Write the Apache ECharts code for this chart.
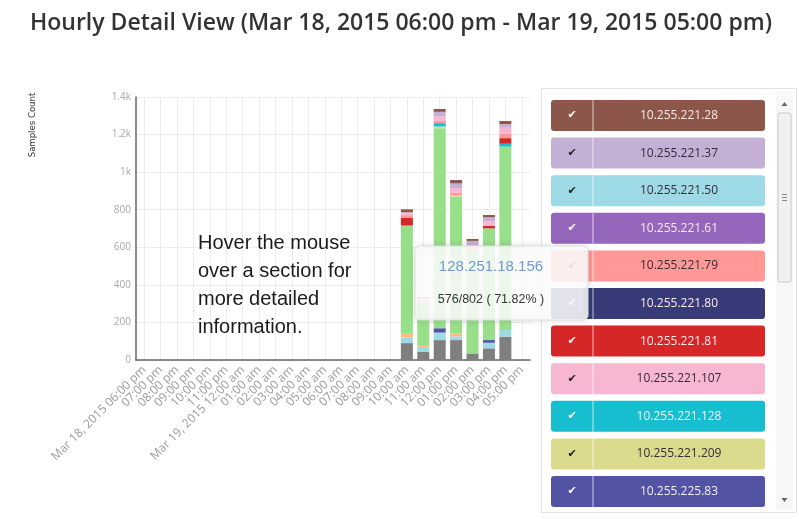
<!DOCTYPE html>
<html><head><meta charset="utf-8">
<script src="https://cdn.jsdelivr.net/npm/echarts@6/dist/echarts.min.js"></script>
<style>html,body{margin:0;padding:0;background:#fff}#c{width:799px;height:519px}</style>
</head><body><div id="c"></div>
<script>
const titleText = 'Hourly Detail View (Mar 18, 2015 06:00 pm - Mar 19, 2015 05:00 pm)';
const hours = ['Mar 18, 2015 06:00 pm','07:00 pm','08:00 pm','09:00 pm','10:00 pm','11:00 pm',
  'Mar 19, 2015 12:00 am','01:00 am','02:00 am','03:00 am','04:00 am','05:00 am','06:00 am',
  '07:00 am','08:00 am','09:00 am','10:00 am','11:00 am','12:00 pm','01:00 pm','02:00 pm',
  '03:00 pm','04:00 pm','05:00 pm'];
const yTickLabels = ['0','200','400','600','800','1k','1.2k','1.4k'];

// stacked series, bottom to top (24 hourly values each)
const sGray   = [0,0,0,0,0,0,0,0,0,0,0,0,0,0,0,0, 90, 45,106,106, 35, 62,124,0];
const sCyanL  = [0,0,0,0,0,0,0,0,0,0,0,0,0,0,0,0, 30, 25, 40, 20,  0, 30, 36,0];
const sOrange = [0,0,0,0,0,0,0,0,0,0,0,0,0,0,0,0, 20,  5,  0, 16,  0,  0,  0,0];
const sIndigo = [0,0,0,0,0,0,0,0,0,0,0,0,0,0,0,0,  0,  0, 23,  0,  0, 14,  0,0];
const sGreen  = [0,0,0,0,0,0,0,0,0,0,0,0,0,0,0,0,576,230,1064,727,542,595,976,0];
const sKhaki  = [0,0,0,0,0,0,0,0,0,0,0,0,0,0,0,0,  0,  0, 10,  6,  5,  0,  0,0];
const sTeal   = [0,0,0,0,0,0,0,0,0,0,0,0,0,0,0,0,  0,  0, 18,  0,  0,  0, 15,0];
const sRed    = [0,0,0,0,0,0,0,0,0,0,0,0,0,0,0,0, 40,  0,  0,  0,  0, 14, 30,0];
const sSalmon = [0,0,0,0,0,0,0,0,0,0,0,0,0,0,0,0, 15,  8, 12, 15, 12,  0, 25,0];
const sPink   = [0,0,0,0,0,0,0,0,0,0,0,0,0,0,0,0, 10, 10, 25, 25, 15, 25, 30,0];
const sLilac  = [0,0,0,0,0,0,0,0,0,0,0,0,0,0,0,0,  6,  7, 23, 25, 25, 20, 20,0];
const sBrown  = [0,0,0,0,0,0,0,0,0,0,0,0,0,0,0,0, 15,  5, 15, 18, 10, 12, 16,0];

const seriesNames  = ['10.255.220.10','10.255.221.50','10.255.221.7','10.255.225.83','128.251.18.156',
  '10.255.221.209','10.255.221.128','10.255.221.81','10.255.221.79','10.255.221.107','10.255.221.37','10.255.221.28'];
const seriesColors = ['#7f7f7f','#9edae5','#ffbb78','#5254a3','#98df8a','#dbdb8d','#17becf','#d62728',
  '#ff9896','#f7b6d2','#c5b0d5','#8c564b'];
const seriesData = [sGray,sCyanL,sOrange,sIndigo,sGreen,sKhaki,sTeal,sRed,sSalmon,sPink,sLilac,sBrown];

const legendNames  = ['10.255.221.28','10.255.221.37','10.255.221.50','10.255.221.61','10.255.221.79',
  '10.255.221.80','10.255.221.81','10.255.221.107','10.255.221.128','10.255.221.209','10.255.225.83'];
const legendColors = ['#8c564b','#c5b0d5','#9edae5','#9467bd','#ff9896','#393b79','#d62728','#f7b6d2',
  '#17becf','#dbdb8d','#5254a3'];
const legendDark   = [true,false,false,true,false,true,true,false,true,false,true];

const tipName = '128.251.18.156';
const tipIndex = 16;

const chart = echarts.init(document.getElementById('c'));

const series = seriesData.map((d, i) => ({
  name: seriesNames[i], type: 'bar', stack: 'all', data: d, barWidth: 12, z: 2,
  itemStyle: { color: seriesColors[i] }, emphasis: { disabled: true }
}));

const graphics = [];
// y axis name
graphics.push({ type: 'text', x: 33, y: 125, rotation: Math.PI / 2, z: 20,
  style: { text: 'Samples Count', fill: '#333', font: '9.5px "DejaVu Sans Condensed"', align: 'center', verticalAlign: 'middle' } });
// hover hint
graphics.push({ type: 'text', x: 198, y: 229, z: 20,
  style: { text: 'Hover the mouse\nover a section for\nmore detailed\ninformation.', fill: '#1a1a1a',
    font: '20px "Liberation Sans"', lineHeight: 28 } });
// legend panel
graphics.push({ type: 'rect', shape: { x: 541.5, y: 88.5, width: 255, height: 424 }, z: 30,
  style: { fill: '#fff', stroke: '#e3e3e3', lineWidth: 1 } });
legendNames.forEach((n, i) => {
  const x0 = 551, y0 = 100 + i * 37.6;
  const dark = legendDark[i];
  graphics.push({ type: 'rect', z: 31, shape: { x: x0, y: y0, width: 214, height: 31, r: 3 }, style: { fill: legendColors[i] } });
  graphics.push({ type: 'rect', z: 32, shape: { x: x0 + 41, y: y0, width: 2, height: 31 }, style: { fill: 'rgba(255,255,255,0.35)' } });
  graphics.push({ type: 'text', z: 33, x: x0 + 21, y: y0 + 15.5, style: { text: '\u2714', fill: dark ? '#fff' : '#222',
    font: '11px "DejaVu Sans"', align: 'center', verticalAlign: 'middle' } });
  graphics.push({ type: 'text', z: 33, x: x0 + 128, y: y0 + 15.5, style: { text: n, fill: dark ? '#fbe9ec' : '#3a2a3a',
    font: '12px "Open Sans"', align: 'center', verticalAlign: 'middle' } });
});
// scrollbar
const sx = 776, sy = 92;
graphics.push({ type: 'rect', z: 31, shape: { x: sx, y: sy, width: 17, height: 418 }, style: { fill: '#f7f7f7' } });
graphics.push({ type: 'polygon', z: 32, shape: { points: [[sx + 5.5, sy + 14], [sx + 11.5, sy + 14], [sx + 8.5, sy + 10]] }, style: { fill: '#666' } });
graphics.push({ type: 'polygon', z: 32, shape: { points: [[sx + 5.5, sy + 406], [sx + 11.5, sy + 406], [sx + 8.5, sy + 410]] }, style: { fill: '#666' } });
graphics.push({ type: 'rect', z: 32, shape: { x: sx + 2, y: sy + 21, width: 13, height: 169, r: 2 }, style: { fill: '#f1f1f1', stroke: '#c8c8c8' } });
[102, 105, 108].forEach(d => graphics.push({ type: 'rect', z: 33, shape: { x: sx + 6, y: sy + d, width: 5, height: 1 }, style: { fill: '#888' } }));
// tooltip
const tipTotal = seriesData.reduce((s, d) => s + d[tipIndex], 0);
const tipVal = sGreen[tipIndex];
const tipText = tipVal + '/' + tipTotal + ' ( ' + (tipVal / tipTotal * 100).toFixed(2) + '% )';
const tx = 415, ty = 246;
graphics.push({ type: 'rect', z: 50, shape: { x: tx, y: ty, width: 173, height: 74, r: 5 },
  style: { fill: 'rgba(255,255,255,0.86)', stroke: '#e0e0e0', shadowBlur: 6, shadowColor: 'rgba(0,0,0,0.15)' } });
graphics.push({ type: 'text', z: 51, x: tx + 76, y: ty + 21, style: { text: tipName, fill: '#6d9bd1', font: '15px "Liberation Sans"',
  align: 'center', verticalAlign: 'middle' } });
graphics.push({ type: 'text', z: 51, x: tx + 76, y: ty + 54, style: { text: tipText, fill: '#333', font: '12.5px "Liberation Sans"',
  align: 'center', verticalAlign: 'middle' } });

chart.setOption({
  backgroundColor: '#fff',
  animation: false,
  title: { text: titleText, left: 25, top: 7,
    textStyle: { fontSize: 23, fontWeight: 600, color: '#333', fontFamily: 'Open Sans' } },
  grid: { left: 136, right: 269, top: 97, bottom: 159, containLabel: false },
  xAxis: {
    type: 'category', data: hours,
    axisLine: { lineStyle: { color: '#666', width: 1.5 } },
    axisTick: { show: false },
    axisLabel: { rotate: 45, interval: 0, color: '#9a9a9a', fontSize: 12, fontFamily: 'Open Sans', margin: 8 },
    splitLine: { show: true, alignWithLabel: true, lineStyle: { color: '#ececec' } }
  },
  yAxis: {
    type: 'value', min: 0, max: 1400, interval: 200,
    axisLine: { show: true, lineStyle: { color: '#666', width: 1.5 } },
    axisTick: { show: false },
    axisLabel: { color: '#a8a8a8', fontSize: 10, fontFamily: 'Open Sans', margin: 5,
      formatter: v => yTickLabels[Math.round(v / 200)] },
    splitLine: { lineStyle: { color: '#ececec' } }
  },
  series: series,
  graphic: graphics
});
</script></body></html>
